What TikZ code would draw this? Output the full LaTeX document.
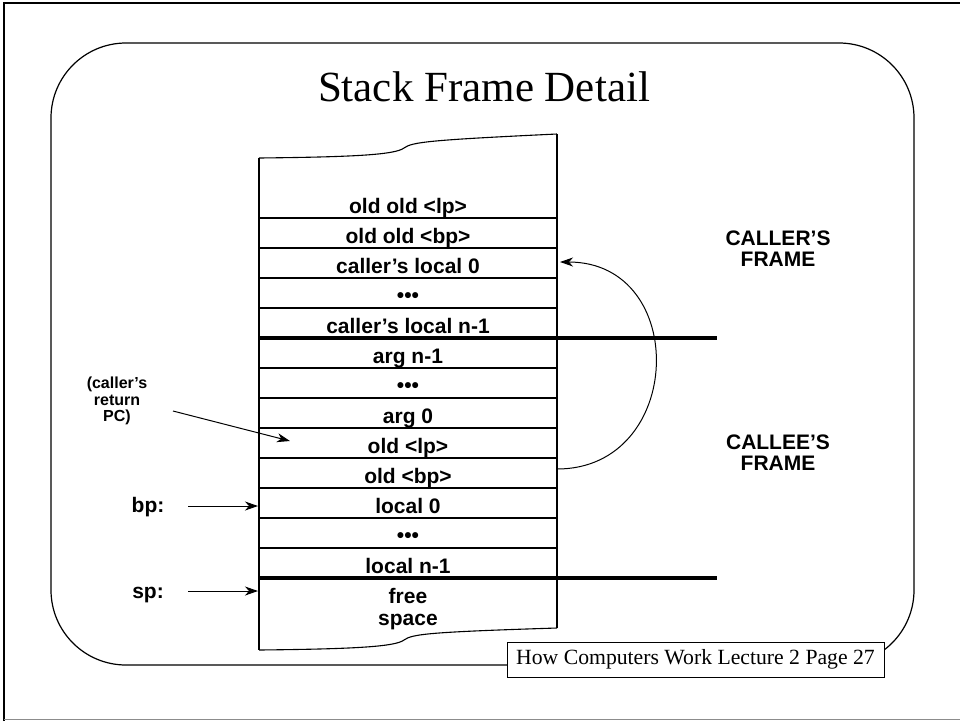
\documentclass[tikz,border=0pt]{standalone}
\usepackage{fontspec}
\setmainfont{Liberation Serif}
\newfontfamily\hv{Liberation Sans}
\usetikzlibrary{arrows.meta}
\tikzset{
  cell/.style={font=\hv\bfseries\fontsize{21}{23}\selectfont, anchor=base, inner sep=0pt},
  side/.style={font=\hv\bfseries\fontsize{21}{23}\selectfont, anchor=base, inner sep=0pt},
  thin line/.style={line width=1.1pt},
  thick bar/.style={line width=4pt},
  ptr/.style={line width=1pt, -{Stealth[length=13pt,width=9pt,inset=4pt]}},
}
\begin{document}
\begin{tikzpicture}[x=1pt,y=-1pt]
\useasboundingbox (0,0) rectangle (960,721);
% outer frame
\draw[line width=2.5pt] (4,721) -- (4,3) -- (962,3);
\draw[line width=1.5pt, black!45] (4,719.5) -- (962,719.5);
% inner rounded frame
\draw[line width=1.2pt, rounded corners=75pt] (51,43) rectangle (914,665);
% title
\node[font=\fontsize{43}{48}\selectfont, anchor=base, inner sep=0pt] (title) at (484,101) {Stack Frame Detail};
% stack outline
\draw[thin line] (259,158) -- (259,650);
\draw[thin line] (557,134) -- (557,628);
\draw[thin line] (259,158) .. controls (350,157) and (395,155) .. (404,148)
  .. controls (412,142) and (430,140) .. (557,134);
\draw[thin line] (259,650) .. controls (350,649) and (395,647) .. (404,640)
  .. controls (412,634) and (430,632) .. (557,628);
% cell separators
\foreach \y in {218,248,278,308,368,398,428,458,488,518,548}
  \draw[thin line] (259,\y) -- (557,\y);
\draw[thick bar] (259,338) -- (717,338);
\draw[thick bar] (259,578) -- (717,578);
% cell texts
\node[cell] (c1) at (408,213) {old old <lp>};
\node[cell] (c2) at (408,243) {old old <bp>};
\node[cell] (c3) at (408,273) {caller’s local 0};
\node[cell] (c4) at (408,302) {•••};
\node[cell] (c5) at (408,333) {caller’s local n-1};
\node[cell] (c6) at (408,363) {arg n-1};
\node[cell] (c7) at (408,392) {•••};
\node[cell] (c8) at (408,423) {arg 0};
\node[cell] (c9) at (408,453) {old <lp>};
\node[cell] (c10) at (408,483) {old <bp>};
\node[cell] (c11) at (408,513) {local 0};
\node[cell] (c12) at (408,542) {•••};
\node[cell] (c13) at (408,573) {local n-1};
\node[cell] (c14) at (408,603) {free};
\node[cell] (c15) at (408,625) {space};
% right side labels
\node[side] (callerA) at (778,245) {CALLER’S};
\node[side] (callerB) at (778,266) {FRAME};
\node[side] (calleeA) at (778,449) {CALLEE’S};
\node[side] (calleeB) at (778,470) {FRAME};
% pointer labels
\node[side] (bp) at (148,512) {bp:};
\node[side] (sp) at (148,598) {sp:};
\coordinate (bpS) at (188,506);
\coordinate (bpE) at (258,506);
\coordinate (spS) at (188,591);
\coordinate (spE) at (258,591);
\draw[ptr] (bpS) -- (bpE);
\draw[ptr] (spS) -- (spE);
% caller's return PC
\node[font=\hv\bfseries\fontsize{16}{16.5}\selectfont, align=center, inner sep=0pt] (pc) at (117,401) {(caller’s\\return\\PC)};
\coordinate (pcS) at (173,411);
\coordinate (pcE) at (290,441);
\draw[ptr] (pcS) -- (pcE);
% saved bp link
\coordinate (linkS) at (557,469);
\coordinate (linkE) at (560,262);
\draw[ptr] (linkS) .. controls (685,469) and (690,262) .. (linkE);
% footer
\node[draw, line width=1pt, fill=white, minimum width=377pt, minimum height=35pt, inner sep=0pt,
  font=\fontsize{21.7}{24}\selectfont] (footer) at (695.5,659.5) {How Computers Work Lecture 2 Page 27};
\end{tikzpicture}
\end{document}
